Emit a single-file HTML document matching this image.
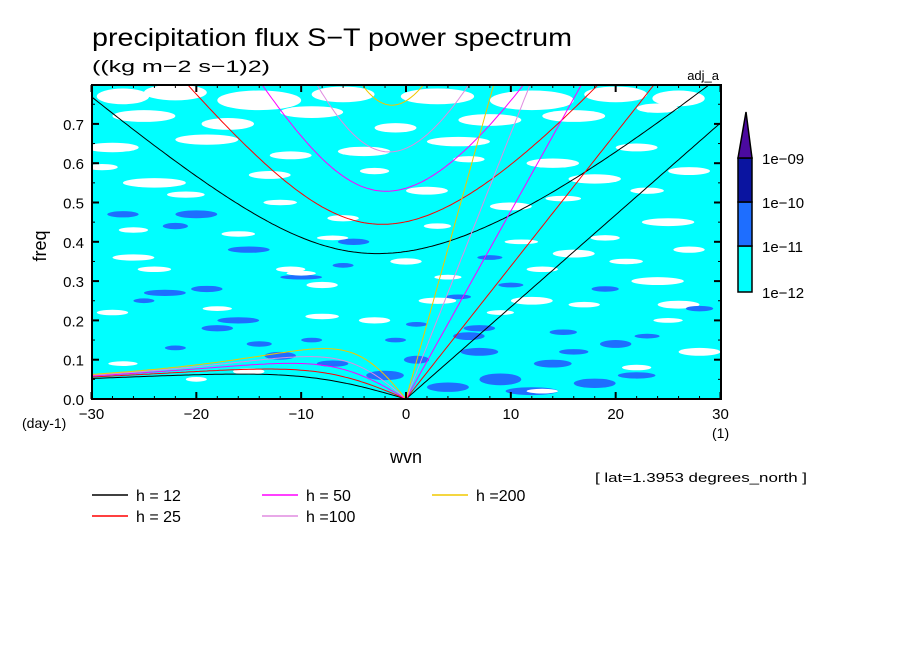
<!DOCTYPE html>
<html><head><meta charset="utf-8"><style>
html,body{margin:0;padding:0;background:#fff;width:904px;height:654px;overflow:hidden}
svg{display:block;font-family:"Liberation Sans",sans-serif}
</style></head><body>
<svg id="c" width="904" height="654" viewBox="0 0 904 654" xmlns="http://www.w3.org/2000/svg">
<text x="92" y="46" font-size="25" textLength="480" lengthAdjust="spacingAndGlyphs">precipitation flux S−T power spectrum</text>
<text x="92" y="72" font-size="17" textLength="178" lengthAdjust="spacingAndGlyphs">((kg m−2 s−1)2)</text>
<text x="719" y="80" font-size="13" text-anchor="end">adj_a</text>
<text x="46" y="246" font-size="18" text-anchor="middle" transform="rotate(-90 46 246)">freq</text>
<text x="406" y="463" font-size="18" text-anchor="middle">wvn</text>
<text x="22" y="428" font-size="14">(day-1)</text>
<text x="712" y="438" font-size="14">(1)</text>
<text x="595" y="482" font-size="13" textLength="212" lengthAdjust="spacingAndGlyphs">[ lat=1.3953 degrees_north ]</text>
<g id="plot"></g>
<g id="axes"></g>
<g id="cbar"></g>
<g id="legend"></g>
</svg>
<script>
const xTicks=[-30,-20,-10,0,10,20,30];
const yTicks=[0,0.1,0.2,0.3,0.4,0.5,0.6,0.7];
const depths=[12,25,50,100,200];
const depthColors=['#000000','#ff0000','#ff00ff','#e08ce0','#f0c800'];
const depthLabels=['h = 12','h = 25','h = 50','h =100','h =200'];
const levelLabels=['1e-12','1e-11','1e-10','1e-09'];
const levelColors=['#ffffff','#00ffff','#1e6eff','#0a14a0','#4b0aa0'];
// contour patches: wavenumber, freq, half-width (wvn), half-height (freq), level index
const patchK=[-27,-22,-14,-6,3,12,20,26,-25,-17,-9,-1,8,16,24,-28,-19,-11,-4,5,14,22,-24,-13,2,18,27,-20,-6,10,25,-26,-15,0,16,-23,-8,12,24,-18,-3,6,20,-12,-2,4,9,14,18,-7,1,7,12,22,-27,-22,-16,-10,-19,-5,26,28,
 -29,-21,-12,-3,6,15,23,-26,-16,-7,3,11,19,27,-24,-10,4,13,21,-28,-18,-8,9,17,25,-22,-14,-1,7,15,23,-27,-9,5,19,-15,1,10,22,-25,-6,8,16,28,-20,-11,3,13,24];
const patchF=[0.77,0.78,0.76,0.775,0.77,0.76,0.775,0.765,0.72,0.7,0.73,0.69,0.71,0.72,0.74,0.64,0.66,0.62,0.63,0.655,0.6,0.64,0.55,0.57,0.53,0.56,0.58,0.47,0.46,0.49,0.45,0.36,0.38,0.35,0.37,0.27,0.29,0.25,0.3,0.18,0.2,0.16,0.14,0.11,0.06,0.03,0.05,0.09,0.04,0.09,0.1,0.12,0.02,0.06,0.47,0.44,0.2,0.31,0.28,0.4,0.24,0.12,
 0.59,0.52,0.5,0.58,0.61,0.51,0.53,0.43,0.42,0.41,0.44,0.4,0.41,0.38,0.33,0.32,0.31,0.33,0.35,0.22,0.23,0.21,0.22,0.24,0.2,0.13,0.14,0.15,0.18,0.17,0.16,0.09,0.15,0.26,0.28,0.07,0.19,0.29,0.08,0.25,0.34,0.36,0.12,0.23,0.05,0.33,0.25,0.02,0.03];
const patchW=[2.5,3,4,3,3.5,4,3,2.5,3,2.5,3,2,3,3,2,2.5,3,2,2.5,3,2.5,2,3,2,2,2.5,2,2,1.5,2,2.5,2,2,1.5,2,2,1.5,2,2.5,1.5,1.5,1.5,1.5,1.5,1.8,2,2,1.8,2,1.5,1.2,1.8,2.5,1.8,1.5,1.2,2,2,1.5,1.5,2,2,
 1.5,1.8,1.6,1.4,1.5,1.7,1.6,1.4,1.6,1.5,1.3,1.6,1.4,1.5,1.6,1.4,1.3,1.5,1.6,1.5,1.4,1.6,1.3,1.5,1.4,1,1.2,1,1.5,1.3,1.2,1.4,1,1.2,1.3,1.5,1,1.2,1.4,1,1,1.2,1.4,1.3,1,1.4,1.8,1.5];
const patchH=[0.02,0.02,0.025,0.02,0.02,0.025,0.02,0.02,0.015,0.015,0.015,0.012,0.015,0.015,0.012,0.012,0.013,0.01,0.012,0.012,0.012,0.01,0.012,0.01,0.01,0.012,0.01,0.01,0.008,0.01,0.01,0.008,0.008,0.008,0.01,0.008,0.008,0.01,0.01,0.008,0.008,0.01,0.01,0.01,0.012,0.012,0.015,0.01,0.012,0.008,0.01,0.01,0.01,0.008,0.008,0.008,0.008,0.006,0.008,0.008,0.01,0.01,
 0.008,0.008,0.007,0.008,0.008,0.007,0.008,0.007,0.007,0.006,0.007,0.006,0.007,0.008,0.007,0.006,0.006,0.007,0.007,0.007,0.006,0.007,0.006,0.007,0.006,0.006,0.007,0.006,0.008,0.007,0.006,0.006,0.006,0.006,0.007,0.008,0.006,0.006,0.007,0.006,0.006,0.006,0.007,0.007,0.006,0.007,0.008,0.006];
const patchL=[0,0,0,0,0,0,0,0,0,0,0,0,0,0,0,0,0,0,0,0,0,0,0,0,0,0,0,2,0,0,0,0,2,0,0,2,0,0,0,2,0,2,2,2,2,2,2,2,2,2,2,2,2,2,2,2,2,2,2,2,0,0,
 0,0,0,0,0,0,0,0,0,0,0,0,0,0,0,0,0,0,0,0,0,0,0,0,0,2,2,2,2,2,2,0,2,2,2,0,2,2,0,2,2,2,2,2,0,0,0,0,0];

const NS='http://www.w3.org/2000/svg';
const X0=92,X1=721,Y0=399,Y1=85;
const X=k=>406+k*(X1-X0)/60;
const Y=f=>Y0-f*393;
function mk(tag,attrs,parent){const e=document.createElementNS(NS,tag);for(const a in attrs)e.setAttribute(a,attrs[a]);parent.appendChild(e);return e;}
const plot=document.getElementById('plot');
const defs=mk('defs',{},document.getElementById('c'));
const cp=mk('clipPath',{id:'clip'},defs);
mk('rect',{x:X0,y:Y1,width:X1-X0,height:Y0-Y1},cp);
plot.setAttribute('clip-path','url(#clip)');
const bg=mk('rect',{x:X0,y:Y1,width:X1-X0,height:Y0-Y1,fill:levelColors[1]},plot);


const n=Math.min(patchK.length,patchF.length,patchW.length,patchH.length,patchL.length);
for(let i=0;i<n;i++){
  const e=mk('ellipse',{cx:X(patchK[i]),cy:Y(patchF[i]),rx:patchW[i]*10.48,ry:patchH[i]*393,fill:levelColors[patchL[i]]},plot);
  
  
}
// dispersion curves
const beta=2.29e-11,R=6.371e6,toCpd=86400/(2*Math.PI);
function roots(k,c){
  const p=c*c*k*k+3*beta*c,q=beta*c*c*k;
  const f=w=>w*w*w-p*w-q,df=w=>3*w*w-p;
  let wi=Math.sqrt(p)*1.2;for(let i=0;i<60;i++)wi-=f(wi)/df(wi);
  let wr=-beta*k/(k*k+3*beta/c);for(let i=0;i<60;i++)wr-=f(wr)/df(wr);
  return [wi,wr];
}
depths.forEach((h,j)=>{
  const c=Math.sqrt(9.81*h);
  let kel='',ig='',ro='';
  for(let s=-30;s<=30.001;s+=0.25){
    const k=s/R;const r=roots(k,c);
    ig+=(ig?'L':'M')+X(s).toFixed(1)+','+Y(r[0]*toCpd).toFixed(1);
    if(s<=0)ro+=(ro?'L':'M')+X(s).toFixed(1)+','+Y(Math.abs(r[1])*toCpd).toFixed(1);
    if(s>=0)kel+=(kel?'L':'M')+X(s).toFixed(1)+','+Y(c*k*toCpd).toFixed(1);
  }
  [['kelvin',kel],['ig1',ig],['rossby1',ro]].forEach(function(pr){
    const p=mk('path',{d:pr[1],fill:'none',stroke:depthColors[j],'stroke-width':1},plot);
    
    
  });
});
// axes
const ax=document.getElementById('axes');
const fr=mk('rect',{x:X0,y:Y1,width:X1-X0,height:Y0-Y1,fill:'none',stroke:'#000','stroke-width':2},ax);


xTicks.forEach(t=>{
  mk('line',{x1:X(t),x2:X(t),y1:Y0,y2:Y0-7,stroke:'#000','stroke-width':2},ax);
  mk('line',{x1:X(t),x2:X(t),y1:Y1,y2:Y1+7,stroke:'#000','stroke-width':2},ax);
  const tx=mk('text',{x:X(t),y:Y0+20,'font-size':15,'text-anchor':'middle'},ax);
  tx.textContent=t===0?'0':(t<0?'−'+(-t):String(t));
  
  
});
for(let t=-28;t<=28;t+=2){mk('line',{x1:X(t),x2:X(t),y1:Y0,y2:Y0-3,stroke:'#000'},ax);mk('line',{x1:X(t),x2:X(t),y1:Y1,y2:Y1+3,stroke:'#000'},ax);}
yTicks.forEach(t=>{
  mk('line',{x1:X0,x2:X0+7,y1:Y(t),y2:Y(t),stroke:'#000','stroke-width':2},ax);
  mk('line',{x1:X1,x2:X1-7,y1:Y(t),y2:Y(t),stroke:'#000','stroke-width':2},ax);
  const tx=mk('text',{x:X0-8,y:Y(t)+6,'font-size':15,'text-anchor':'end'},ax);
  tx.textContent=t.toFixed(1);
  
  
});
for(let t=0.05;t<0.8;t+=0.1){mk('line',{x1:X0,x2:X0+3,y1:Y(t),y2:Y(t),stroke:'#000'},ax);mk('line',{x1:X1,x2:X1-3,y1:Y(t),y2:Y(t),stroke:'#000'},ax);}
// colorbar
const cb=document.getElementById('cbar');
const segY=[292,246,202,158];
for(let i=0;i<3;i++){
  const r=mk('rect',{x:738,y:segY[i+1],width:14,height:segY[i]-segY[i+1],fill:levelColors[i+1],stroke:'#000','stroke-width':1.5},cb);
  
  
}
const tri=mk('polygon',{points:'738,158 752,158 746,112',fill:levelColors[4],stroke:'#000','stroke-width':1.5},cb);


const lblY=[298,252,208,164];
levelLabels.forEach((l,i)=>{
  const t=mk('text',{x:762,y:lblY[i],'font-size':15},cb);
  t.textContent=l.replace('-','−');
  
  
});
// legend
const lg=document.getElementById('legend');
const lx=[92,92,262,262,432],ly=[495,516,495,516,495];
depths.forEach((h,i)=>{
  const g=mk('g',{},lg);
  
  
  mk('line',{x1:lx[i],x2:lx[i]+36,y1:ly[i],y2:ly[i],stroke:depthColors[i],'stroke-width':1.5},g);
  const t=mk('text',{x:lx[i]+44,y:ly[i]+6,'font-size':16},g);
  t.textContent=depthLabels[i];
});
</script>
</body></html>
